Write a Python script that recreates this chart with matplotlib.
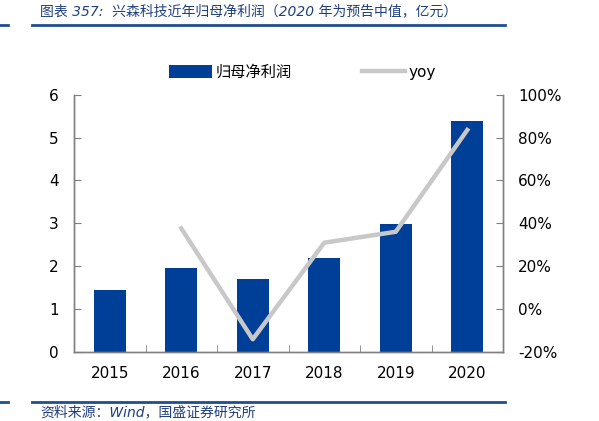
import matplotlib
matplotlib.use('Agg')
import matplotlib.pyplot as plt
import numpy as np

plt.rcParams['font.family'] = ['DejaVu Sans', 'Noto Sans CJK SC']

# data
years = ['2015', '2016', '2017', '2018', '2019', '2020']
profit = [1.45, 1.96, 1.69, 2.19, 2.97, 5.39]          # 归母净利润, 亿元
yoy = [None, 37.6, -14.2, 30.9, 36.0, 83.5]            # %
left_ticks = [0, 1, 2, 3, 4, 5, 6]
right_ticks = [-20, 0, 20, 40, 60, 80, 100]

bar_color = '#003F98'
line_color = '#C8C8C8'
title_color = '#1F3F7F'
rule_color = '#1F4E8C'
spine_color = '#808080'

fig = plt.figure(figsize=(5.99, 4.21), dpi=100)
ax = fig.add_axes([74/599, 1-351.7/421, (503-74)/599, (351.7-94.7)/421])
ax2 = ax.twinx()

x = np.arange(len(years))
bars = ax.bar(x, profit, width=0.45, color=bar_color, label='归母净利润', zorder=2)
yx = [i for i, v in zip(x, yoy) if v is not None]
yv = [v for v in yoy if v is not None]
line, = ax2.plot(yx, yv, color=line_color, lw=3.2, label='yoy', zorder=3)

ax.set_xlim(-0.5, len(years) - 0.5)
ax.set_ylim(0, 6)
ax2.set_ylim(-20, 100)
ax.set_yticks(left_ticks)
ax.set_yticklabels([str(t) for t in left_ticks])
ax2.set_yticks(right_ticks)
ax2.set_yticklabels(['%d%%' % t for t in right_ticks])
ax.set_xticks(x)
ax.set_xticklabels(years)
ax.set_xticks(np.arange(0.5, len(years) - 0.5, 1), minor=True)

for a in (ax, ax2):
    a.spines['top'].set_visible(False)
    for s in ('left', 'right', 'bottom'):
        a.spines[s].set_color(spine_color)
        a.spines[s].set_linewidth(1.0)
ax.tick_params(axis='y', direction='in', length=5, color=spine_color, labelsize=11, pad=11)
ax2.tick_params(axis='y', direction='in', length=5, color=spine_color, labelsize=11, pad=11)
ax.tick_params(axis='x', which='major', length=0, labelsize=11, pad=10)
ax.tick_params(axis='x', which='minor', direction='in', length=5, color=spine_color)

# legend
fig.legend([bars, line], ['归母净利润', 'yoy'], loc='center left', bbox_to_anchor=(169/599, 1-72/421),
           ncol=2, frameon=False, columnspacing=4.6, handlelength=2.8, handleheight=0.9,
           handletextpad=0.25, borderpad=0, borderaxespad=0,
           prop={'family': ['DejaVu Sans', 'Noto Sans CJK SC'], 'size': 11})

# header and footer
fig.text(40/599, 1-11/421, '图表 357:  兴森科技近年归母净利润（2020 年为预告中值，亿元）',
         color=title_color, fontsize=10, style='italic', va='center', ha='left',
         family=['DejaVu Sans', 'Noto Sans CJK SC'])
fig.text(40/599, 1-412/421, '资料来源：Wind，国盛证券研究所',
         color=title_color, fontsize=10, style='italic', va='center', ha='left',
         family=['DejaVu Sans', 'Noto Sans CJK SC'])
for yy in (25, 402):
    fig.add_artist(plt.Line2D([0, 8/599], [1-yy/421]*2, color=rule_color, lw=2))
    fig.add_artist(plt.Line2D([32/599, 505/599], [1-yy/421]*2, color=rule_color, lw=2))

fig.savefig('out.png', dpi=100)
